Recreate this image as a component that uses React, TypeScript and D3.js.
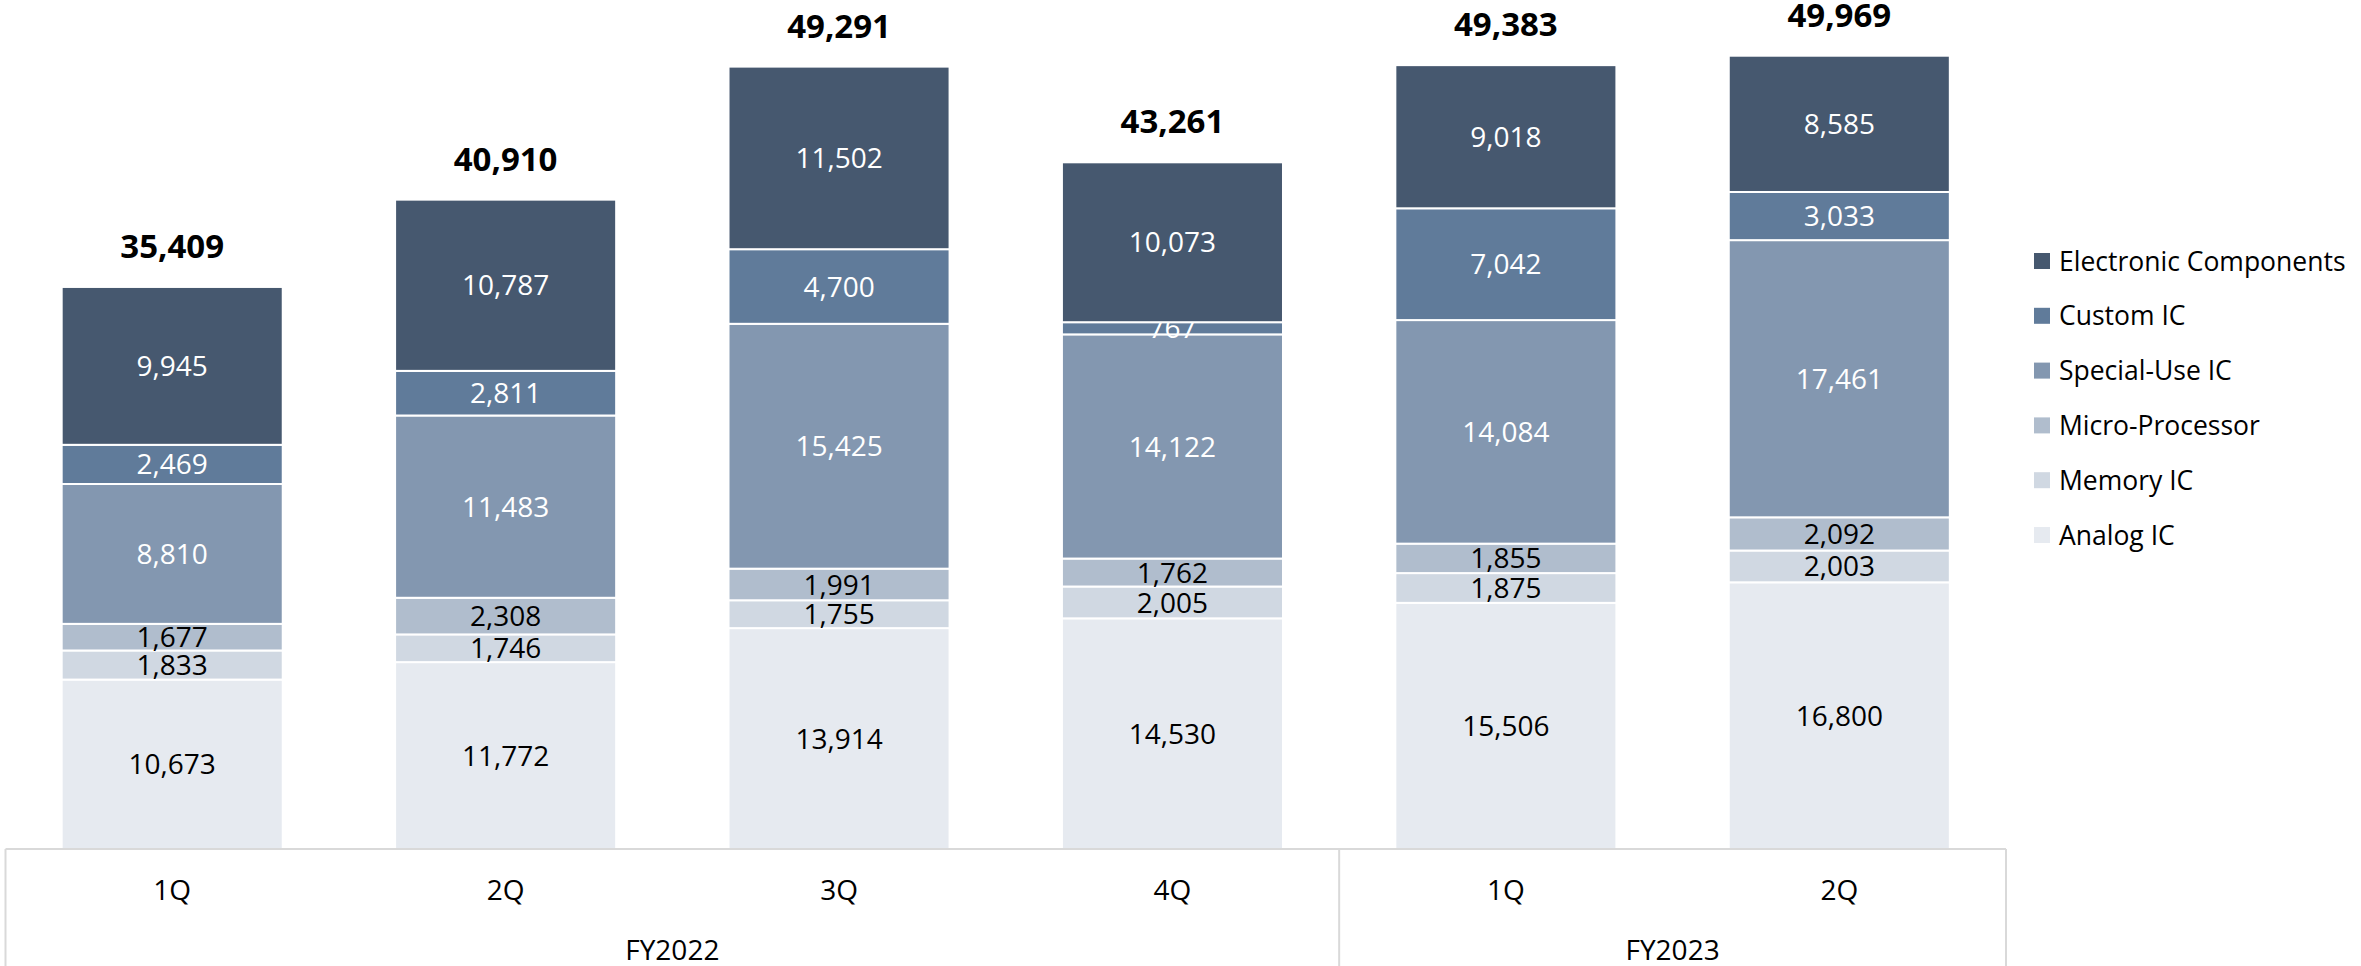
import React from "react";
import * as d3 from "d3";

const quarters = ["1Q", "2Q", "3Q", "4Q", "1Q", "2Q"];
const fiscalYears = ["FY2022", "FY2022", "FY2022", "FY2022", "FY2023", "FY2023"];
const groups = ["FY2022", "FY2023"];

const seriesNames = [
  "Analog IC",
  "Memory IC",
  "Micro-Processor",
  "Special-Use IC",
  "Custom IC",
  "Electronic Components",
];
const analogIC = [10673, 11772, 13914, 14530, 15506, 16800];
const memoryIC = [1833, 1746, 1755, 2005, 1875, 2003];
const microProcessor = [1677, 2308, 1991, 1762, 1855, 2092];
const specialUseIC = [8810, 11483, 15425, 14122, 14084, 17461];
const customIC = [2469, 2811, 4700, 767, 7042, 3033];
const electronicComponents = [9945, 10787, 11502, 10073, 9018, 8585];
const totals = [35409, 40910, 49291, 43261, 49383, 49969];

const colors = ["#E6EAF0", "#D0D8E2", "#B0BDCD", "#8397B0", "#607B9A", "#46586F"];
const labelColors = ["#000", "#000", "#000", "#fff", "#fff", "#fff"];

const W = 2361;
const H = 966;
const FONT = "'Open Sans', 'Noto Sans', sans-serif";

export default function App() {
  const seriesValues = [analogIC, memoryIC, microProcessor, specialUseIC, customIC, electronicComponents];
  const keys = quarters.map((q, i) => `${fiscalYears[i]}-${q}`);
  const rows = keys.map((k, i) => {
    const r: any = { key: k };
    seriesNames.forEach((s, j) => (r[s] = seriesValues[j][i]));
    return r;
  });
  const stacked = d3.stack<any>().keys(seriesNames)(rows);

  const x = d3.scaleBand<string>().domain(keys).range([5.5, 2006]).paddingInner(0.337).paddingOuter(0.1685);
  const y = d3.scaleLinear().domain([0, 50000]).range([849, 849 - 50000 * 0.015874]);
  const fmt = d3.format(",");

  const axisY = y(0);
  const groupBounds = groups.map((g) => {
    const idx = keys.map((_, i) => i).filter((i) => fiscalYears[i] === g);
    const x0 = x(keys[idx[0]])! - (x.step() * x.paddingInner()) / 2;
    const x1 = x(keys[idx[idx.length - 1]])! + x.bandwidth() + (x.step() * x.paddingInner()) / 2;
    return { g, x0, x1 };
  });
  const boxLeft = x.range()[0];
  const boxRight = x.range()[1];

  return (
    <svg width={W} height={H} style={{ position: "absolute", left: 0, top: 0, background: "#fff" }} fontFamily={FONT}>
      {stacked.map((layer, si) => (
        <g key={layer.key}>
          {layer.map((d, i) => {
            const x0 = x(keys[i])!;
            const y0 = y(d[1]);
            const y1 = y(d[0]);
            return (
              <g key={i}>
                <rect x={x0} y={y0} width={x.bandwidth()} height={y1 - y0} fill={colors[si]} stroke="#fff" strokeWidth={2} />
                <text
                  x={x0 + x.bandwidth() / 2}
                  y={(y0 + y1) / 2}
                  dy="0.36em"
                  textAnchor="middle"
                  fontSize={28}
                  fill={labelColors[si]}
                >
                  {fmt(d[1] - d[0])}
                </text>
              </g>
            );
          })}
        </g>
      ))}
      {totals.map((t, i) => (
        <text
          key={i}
          x={x(keys[i])! + x.bandwidth() / 2}
          y={y(stacked[stacked.length - 1][i][1]) - 29}
          textAnchor="middle"
          fontSize={33}
          fontWeight={700}
          fill="#000"
        >
          {fmt(t)}
        </text>
      ))}
      {/* category axis box */}
      <line x1={boxLeft} x2={boxRight} y1={axisY} y2={axisY} stroke="#D9D9D9" strokeWidth={2} />
      <line x1={boxLeft} x2={boxLeft} y1={axisY} y2={H} stroke="#D9D9D9" strokeWidth={2} />
      {groupBounds.map((b) => (
        <line key={b.g} x1={b.x1} x2={b.x1} y1={axisY} y2={H} stroke="#D9D9D9" strokeWidth={2} />
      ))}
      {keys.map((k, i) => (
        <text key={k} x={x(k)! + x.bandwidth() / 2} y={890} dy="0.36em" textAnchor="middle" fontSize={28} fill="#000">
          {quarters[i]}
        </text>
      ))}
      {groupBounds.map((b) => (
        <text key={b.g} x={(b.x0 + b.x1) / 2} y={950} dy="0.36em" textAnchor="middle" fontSize={28} fill="#000">
          {b.g}
        </text>
      ))}
      {/* legend */}
      {seriesNames
        .map((s, i) => ({ s, i }))
        .reverse()
        .map(({ s, i }, row) => {
          const cy = 261 + row * 54.8;
          return (
            <g key={s}>
              <rect x={2034} y={cy - 8} width={16} height={16} fill={colors[i]} />
              <text x={2059} y={cy} dy="0.36em" fontSize={26.5} fill="#000">
                {s}
              </text>
            </g>
          );
        })}
    </svg>
  );
}
